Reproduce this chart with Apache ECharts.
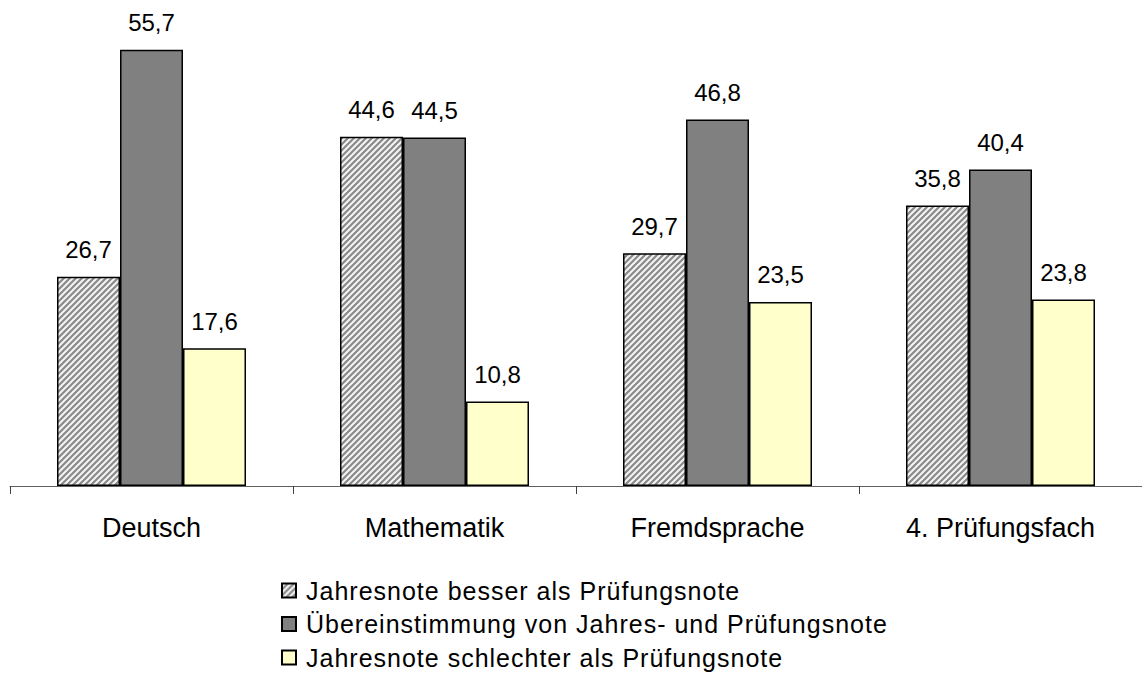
<!DOCTYPE html>
<html>
<head>
<meta charset="utf-8">
<title>Jahresnote vs. Prüfungsnote</title>
<script src="https://cdn.jsdelivr.net/npm/echarts@6/dist/echarts.min.js"></script>
<style>
  html, body { margin: 0; padding: 0; background: #fff; }
  #chart { width: 1142px; height: 675px; }
  /* Legendentext etwas gesperrt wie im Original */
  #chart text[style*="25px"] { letter-spacing: 1px; }
</style>
</head>
<body>
<div id="chart"></div>
<script>
const categories = ['Deutsch', 'Mathematik', 'Fremdsprache', '4. Prüfungsfach']
const besser = [26.7, 44.6, 29.7, 35.8]
const gleich = [55.7, 44.5, 46.8, 40.4]
const schlechter = [17.6, 10.8, 23.5, 23.8]
const seriesNames = [
  'Jahresnote besser als Prüfungsnote',
  'Übereinstimmung von Jahres- und Prüfungsnote',
  'Jahresnote schlechter als Prüfungsnote'
]

const FONT = '"Liberation Sans", Arial, sans-serif'

// Schraffur für die erste Reihe
function hatch () {
  const c = document.createElement('canvas')
  c.width = 6
  c.height = 6
  const ctx = c.getContext('2d')
  ctx.fillStyle = '#f4f4f4'
  ctx.fillRect(0, 0, 6, 6)
  ctx.strokeStyle = '#8a8a8a'
  ctx.lineWidth = 2.2
  ctx.beginPath()
  ctx.moveTo(-1, 7); ctx.lineTo(7, -1)
  ctx.moveTo(-4, 4); ctx.lineTo(4, -4)
  ctx.moveTo(2, 10); ctx.lineTo(10, 2)
  ctx.stroke()
  return { image: c, repeat: 'repeat' }
}

const fills = [hatch(), '#808080', '#ffffcc']
const values = [besser, gleich, schlechter]

const chart = echarts.init(document.getElementById('chart'), null, { renderer: 'svg' })
chart.setOption({
  animation: false,
  grid: { left: 10, right: -2, top: 16, bottom: 189 },
  legend: {
    orient: 'vertical',
    left: 281,
    top: 578,
    padding: 0,
    height: 95,
    itemWidth: 14,
    itemHeight: 14,
    itemGap: 8.5,
    icon: 'rect',
    textStyle: { fontFamily: FONT, fontSize: 25, color: '#000', lineHeight: 25, padding: [0, 0, 0, 5] },
    data: seriesNames
  },
  xAxis: {
    type: 'category',
    data: categories,
    axisLine: { lineStyle: { color: '#606060', width: 1 } },
    axisTick: { show: true, length: 8, lineStyle: { color: '#404040' } },
    axisLabel: { fontFamily: FONT, fontSize: 27, color: '#000', margin: 28 }
  },
  yAxis: {
    type: 'value',
    min: 0,
    max: 60,
    show: false
  },
  series: values.map((arr, i) => ({
    name: seriesNames[i],
    type: 'bar',
    data: arr,
    barWidth: 63,
    barGap: '0%',
    itemStyle: { color: fills[i], borderColor: '#000', borderWidth: 1.5 },
    label: {
      show: true,
      position: 'top',
      distance: 15,
      fontFamily: FONT,
      fontSize: 24,
      color: '#000',
      formatter: p => String(p.value).replace('.', ',')
    }
  }))
})
</script>
</body>
</html>
